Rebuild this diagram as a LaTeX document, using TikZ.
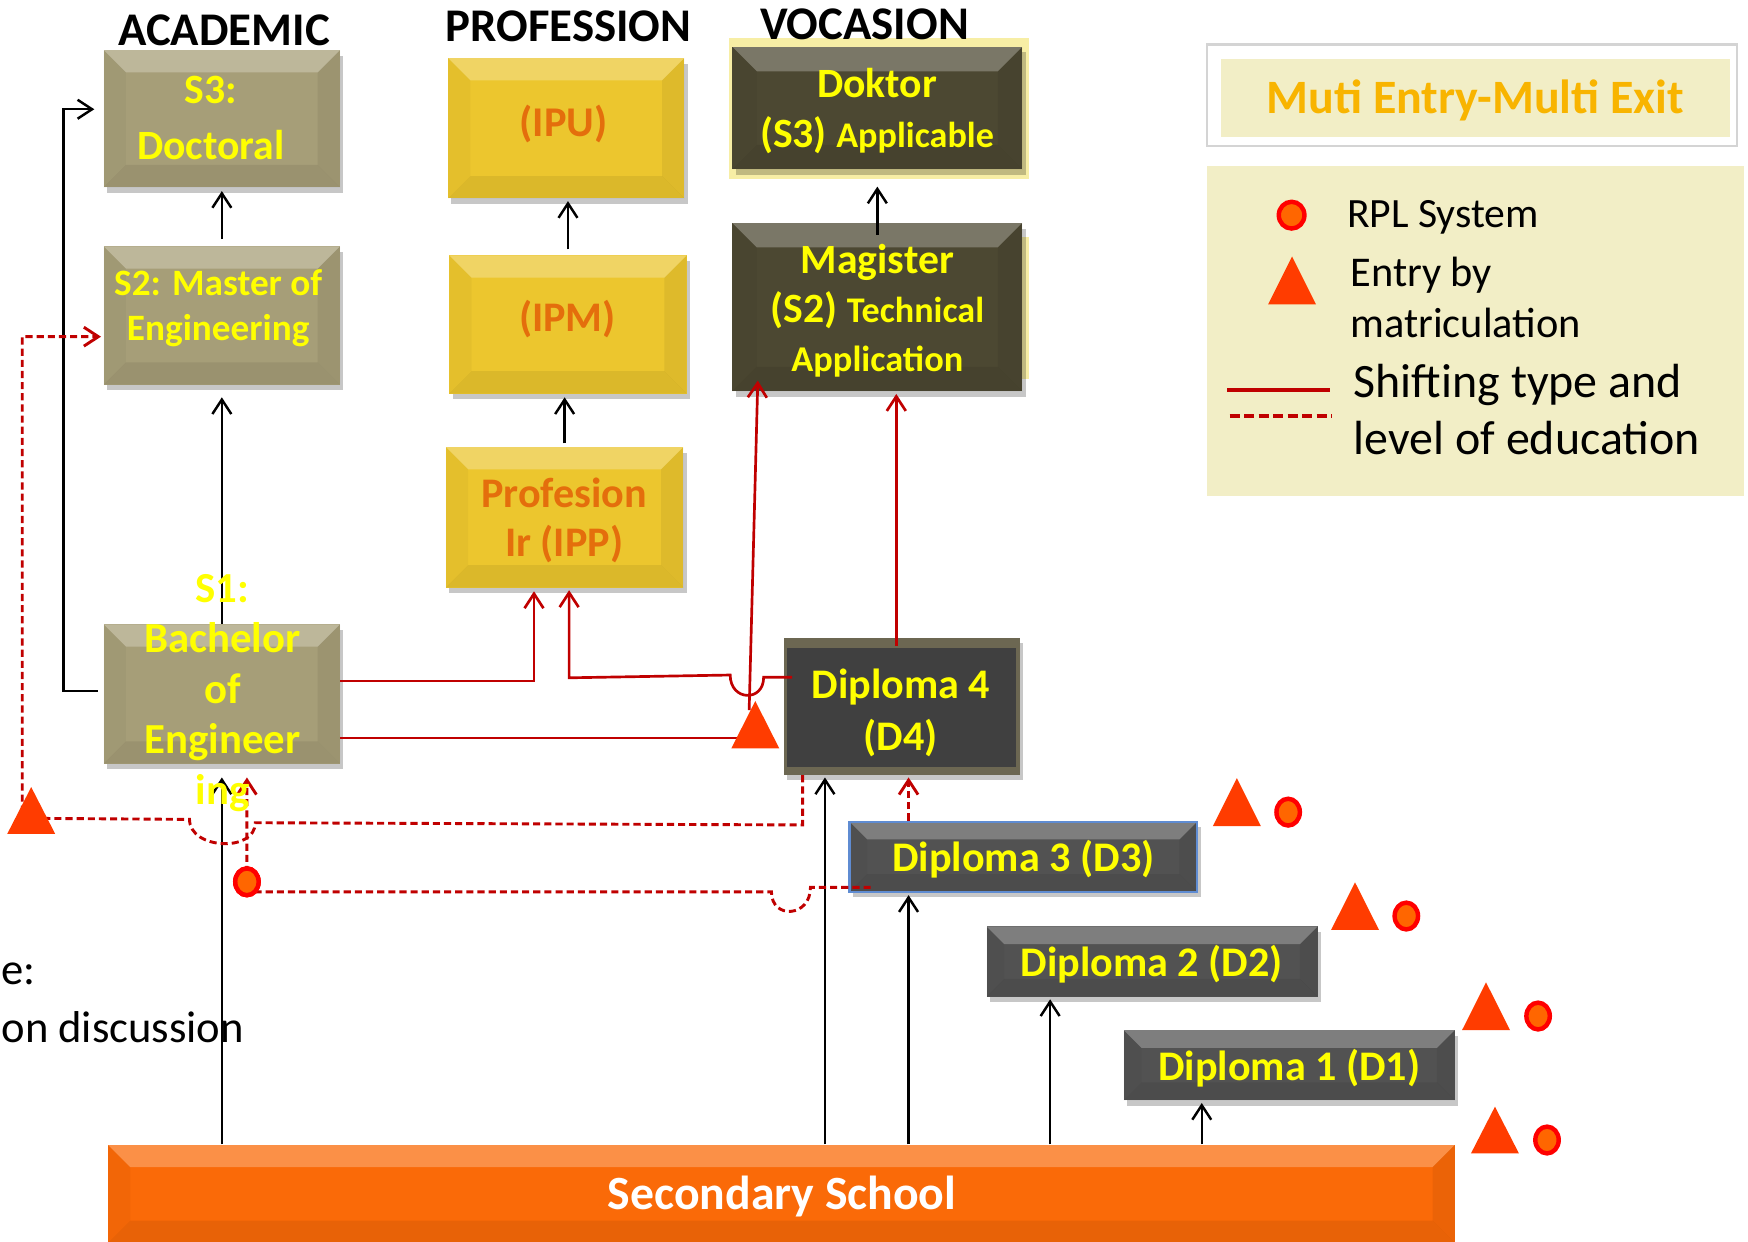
\documentclass[tikz,border=0pt]{standalone}
\usepackage{fontspec}
\setmainfont{Carlito}
\usetikzlibrary{arrows.meta,shadows,shapes.geometric}

\definecolor{acadc}{RGB}{166,158,120}
\definecolor{profc}{RGB}{236,198,46}
\definecolor{vocc}{RGB}{76,72,50}
\definecolor{glowc}{RGB}{247,238,165}
\definecolor{d4frame}{RGB}{108,103,82}
\definecolor{d4c}{RGB}{64,64,64}
\definecolor{dipc}{RGB}{82,82,82}
\definecolor{d3edge}{RGB}{95,140,210}
\definecolor{secc}{RGB}{250,106,8}
\definecolor{legc}{RGB}{242,238,198}
\definecolor{legedge}{RGB}{212,212,212}
\definecolor{redc}{RGB}{192,0,0}
\definecolor{tric}{RGB}{255,60,0}
\definecolor{rplfill}{RGB}{255,102,0}
\definecolor{rpledge}{RGB}{255,0,0}
\definecolor{ytxt}{RGB}{255,255,0}
\definecolor{otxt}{RGB}{228,110,12}
\definecolor{goldtxt}{RGB}{248,180,0}

\newcommand\bevelpic[1]{%
  \fill[white,opacity=.26] (path picture bounding box.north west) -- (path picture bounding box.north east) -- ([xshift=-#1,yshift=-#1]path picture bounding box.north east) -- ([xshift=#1,yshift=-#1]path picture bounding box.north west) -- cycle;
  \fill[black,opacity=.07] (path picture bounding box.south west) -- (path picture bounding box.south east) -- ([xshift=-#1,yshift=#1]path picture bounding box.south east) -- ([xshift=#1,yshift=#1]path picture bounding box.south west) -- cycle;
  \fill[black,opacity=.03] (path picture bounding box.north west) -- ([xshift=#1,yshift=-#1]path picture bounding box.north west) -- ([xshift=#1,yshift=#1]path picture bounding box.south west) -- (path picture bounding box.south west) -- cycle;
  \fill[black,opacity=.06] (path picture bounding box.north east) -- ([xshift=-#1,yshift=-#1]path picture bounding box.north east) -- ([xshift=-#1,yshift=#1]path picture bounding box.south east) -- (path picture bounding box.south east) -- cycle;
}
\newcommand\dfourpic{%
  \fill[d4c] ([xshift=1.6pt,yshift=-4.5pt]path picture bounding box.north west) rectangle ([xshift=-2pt,yshift=3.7pt]path picture bounding box.south east);
}
\newcommand\entrytri[3]{\fill[tric] (#1-21.5,#3) -- (#1,#2) -- (#1+21.5,#3) -- cycle;}

\begin{document}
\begin{tikzpicture}[x=0.5pt,y=-0.5pt,
 shadowed/.style={drop shadow={shadow xshift=1.5pt,shadow yshift=-2.5pt,opacity=.22,fill=black}},
 acad/.style={shadowed,fill=acadc,inner sep=0pt,path picture={\bevelpic{10pt}}},
 prof/.style={shadowed,fill=profc,inner sep=0pt,path picture={\bevelpic{10pt}}},
 voc/.style={shadowed,fill=vocc,inner sep=0pt,path picture={\bevelpic{11pt}}},
 dfour/.style={shadowed,fill=d4frame,inner sep=0pt,path picture={\dfourpic}},
 dipbox/.style={shadowed,fill=dipc,inner sep=0pt,path picture={\bevelpic{8pt}}},
 secbar/.style={fill=secc,inner sep=0pt,path picture={\bevelpic{10pt}}},
 ytext/.style={inner sep=0pt,align=center,text=ytxt},
 otext/.style={inner sep=0pt,align=center,text=otxt},
 headtxt/.style={inner sep=0pt,font=\bfseries\fontsize{21}{25}\selectfont},
 blk/.style={draw=black,line width=1.1pt,-{Straight Barb[length=6.5pt,width=8.5pt]}},
 redl/.style={draw=redc,line width=1.2pt},
 redarr/.style={redl,-{Straight Barb[length=6.5pt,width=8.5pt]}},
 redd/.style={draw=redc,line width=1.3pt,dash pattern=on 3.2pt off 1.8pt},
 reddarr/.style={redd,-{Straight Barb[length=6.5pt,width=8.5pt]}},
 rpl/.style={ellipse,draw=rpledge,fill=rplfill,line width=2pt,minimum width=10.5pt,minimum height=12pt,inner sep=0pt},
 legtext/.style={inner sep=0pt,align=left,text=black},
]
\useasboundingbox (0,0) rectangle (1568,1114);
\fill[white] (0,0) rectangle (1568,1114);

% legend
\node[draw=legedge,line width=1pt,fill=white,minimum width=237.5pt,minimum height=45.5pt,inner sep=0pt] (leg1) at (1320.5,85.5) {};
\node[fill=legc,minimum width=228.5pt,minimum height=35pt,inner sep=0pt] (leg1in) at (1323.5,88) {};
\node[inner sep=0pt,anchor=base,text=goldtxt,font=\bfseries\fontsize{21.5}{26}\selectfont] (mmt) at (1323.5,101.7) {Muti Entry-Multi Exit};
\node[fill=legc,minimum width=240.5pt,minimum height=148pt,inner sep=0pt] (leg2) at (1323.5,297) {};
\node[rpl,minimum width=11.5pt,minimum height=12pt] (lc) at (1158.6,193) {};
\entrytri{1159}{230}{273}
\draw[redc,line width=1.8pt] (1101,350) -- (1193,350);
\draw[redc,line width=1.8pt,dash pattern=on 4.5pt off 2pt] (1103,373) -- (1195,373);
\node[legtext,anchor=base west,font=\fontsize{18.7}{22}\selectfont] (lrpl) at (1208,203.7) {RPL System};
\node[legtext,anchor=west,font=\fontsize{19}{23}\selectfont] (lent) at (1211,267) {Entry by\\matriculation};
\node[legtext,anchor=west,font=\fontsize{21.5}{25.4}\selectfont] (lshift) at (1214,367.5) {Shifting type and\\level of education};

% notes at left
\node[inner sep=0pt,anchor=base west,font=\fontsize{20}{24}\selectfont] (note1) at (1,883.5) {e:};
\node[inner sep=0pt,anchor=base west,font=\fontsize{20}{24}\selectfont] (note2) at (1,935.3) {on discussion};

% glow behind vocation boxes
\fill[glowc] (654,34) rectangle (923,161);
\fill[glowc] (912,213) rectangle (923,340);

% boxes
\node[acad,minimum width=106pt,minimum height=61.5pt] (s3) at (199,106.5) {};
\node[acad,minimum width=106pt,minimum height=62pt] (s2) at (199,283) {};
\node[acad,minimum width=106pt,minimum height=62.5pt] (s1) at (199,622.5) {};
\node[prof,minimum width=106pt,minimum height=63pt] (ipu) at (508,115) {};
\node[prof,minimum width=106.5pt,minimum height=62pt] (ipm) at (509.5,291) {};
\node[prof,minimum width=106.5pt,minimum height=63pt] (ipp) at (506.5,464) {};
\node[voc,minimum width=130pt,minimum height=55pt] (dok) at (787,97) {};
\node[voc,minimum width=130pt,minimum height=75.5pt] (mag) at (787,275.5) {};
\node[dfour,minimum width=106pt,minimum height=61.5pt] (d4) at (809,633.5) {};
\node[dipbox,draw=d3edge,line width=1pt,minimum width=156pt,minimum height=31.5pt] (d3) at (918,768.5) {};
\node[dipbox,minimum width=148.5pt,minimum height=31.5pt] (d2) at (1033.5,862.5) {};
\node[dipbox,minimum width=148.5pt,minimum height=31.5pt] (d1) at (1156.5,955.5) {};
\node[secbar,minimum width=604pt,minimum height=44pt] (sec) at (701,1071) {};

% named points at symbols
\coordinate (tL) at (20,734);
\coordinate (t4) at (672,637);
\node[rpl] (cs) at (221.5,791) {};

% black connectors
\draw[blk,shorten <=3pt,shorten >=1.5pt] (s2.north) -- (s2.north |- s3.south);
\draw[blk,shorten >=5.5pt] (s1.north) -- (s1.north |- s2.south);
\draw[blk,shorten >=6pt] (s1.south |- sec.north) -- (s1.south);
\draw[blk,shorten <=2.5pt,shorten >=4pt] (s1.west |- 0,620) -- (57,620) |- (s3.west |- 0,98);
\draw[blk,shorten <=2.5pt,shorten >=1pt] (ipm.north) -- (ipm.north |- ipu.south);
\draw[blk,shorten <=1.5pt,shorten >=1.5pt] (ipp.north) -- (ipp.north |- ipm.south);
\draw[blk,shorten <=-5.5pt,shorten >=7.5pt] (mag.north) -- (mag.north |- dok.south);
\draw[blk,shorten >=1pt] (740,0 |- sec.north) -- (740,0 |- d4.south);
\draw[blk,shorten >=1pt] (815,0 |- sec.north) -- (815,0 |- d3.south);
\draw[blk,shorten >=1pt] (942,0 |- sec.north) -- (942,0 |- d2.south);
\draw[blk,shorten >=1pt] (1078,0 |- sec.north) -- (1078,0 |- d1.south);

% red solid connectors
\draw[redarr,shorten >=1.5pt] (s1.east |- 0,611) -| (479,0 |- ipp.south);
\draw[redarr,shorten <=-4pt,shorten >=1pt] (d4.west |- 0,607.5) -- (685,607.5) .. controls (685,630) and (655,629) .. (655,605.5) -- (510.5,608) -- (510.5,0 |- ipp.south);
\draw[redarr,shorten >=-5pt] (t4) -- (679.5,0 |- mag.south);
\draw[redl] (s1.east |- 0,662) -- (t4 |- 0,662);
\draw[redarr,shorten <=-4pt,shorten >=1pt] (804,0 |- d4.north) -- (804,0 |- mag.south);

% red dashed connectors
\draw[reddarr,shorten >=1pt] (720,0 |- d4.south) -- (720,740) -- (229,738) .. controls (229,765) and (170,762) .. (170,735) -- (tL) -- (tL |- 0,302) -- (s2.west |- 0,302);
\draw[reddarr,shorten <=-10pt,shorten >=6pt] (d3.west |- 0,796) -- (727,796) .. controls (727,823) and (692,825) .. (692,800) -- (cs |- 0,800) -- (cs |- s1.south);
\draw[reddarr,shorten >=1pt] (815,0 |- d3.north) -- (815,0 |- d4.south);

% symbols on top
\node[rpl] (cs2) at (221.5,791) {};
\entrytri{28}{706}{748}
\entrytri{677.5}{628.8}{671.3}
\entrytri{1109.5}{698}{741}
\entrytri{1215.5}{791.5}{834.2}
\entrytri{1333}{881.2}{924}
\entrytri{1341}{992.7}{1034.6}
\node[rpl] (c3) at (1155.5,728.5) {};
\node[rpl] (c2) at (1261.5,821.7) {};
\node[rpl] (c1) at (1379.7,911.4) {};
\node[rpl] (c0) at (1387.7,1022.6) {};

% headers
\node[headtxt,anchor=base] (hacad) at (201,40.4) {ACADEMIC};
\node[headtxt,anchor=base] (hprof) at (510,37.4) {PROFESSION};
\node[headtxt,anchor=base] (hvoc) at (775.5,35.3) {VOCASION};

% box texts
\node[ytext,font=\bfseries\fontsize{18.7}{25}\selectfont] (s3t) at (189,105.7) {S3:\\Doctoral};
\node[ytext,font=\bfseries\fontsize{16.7}{20.2}\selectfont] (s2t) at (195.7,276.4) {S2: Master of\\Engineering};
\node[ytext,font=\bfseries\fontsize{19.2}{22.6}\selectfont] (s1t) at (199.5,621.6) {S1:\\Bachelor\\of\\Engineer\\ing};
\node[otext,anchor=base,font=\bfseries\fontsize{19}{23}\selectfont] (iput) at (505.6,122.6) {(IPU)};
\node[otext,anchor=base,font=\bfseries\fontsize{18.9}{23}\selectfont] (ipmt) at (509,297.5) {(IPM)};
\node[otext,font=\bfseries\fontsize{18.9}{22.2}\selectfont] (ippt) at (506,466.8) {Profesion\\Ir (IPP)};
\node[ytext,font=\bfseries\fontsize{18.7}{22.5}\selectfont] (dokt) at (786.7,99.5) {Doktor\\(S3) {\fontsize{16.2}{22.5}\selectfont Applicable}};
\node[ytext,font=\bfseries\fontsize{18.7}{22}\selectfont] (magt) at (787,278.5) {Magister\\(S2) {\fontsize{16.2}{22}\selectfont Technical}\\{\fontsize{16.3}{22}\selectfont Application}};
\node[ytext,font=\bfseries\fontsize{18.9}{23.2}\selectfont] (d4t) at (808,639.5) {Diploma 4\\(D4)};
\node[ytext,anchor=base,font=\bfseries\fontsize{18.9}{23}\selectfont] (d3t) at (918,782) {Diploma 3 (D3)};
\node[ytext,anchor=base,font=\bfseries\fontsize{18.9}{23}\selectfont] (d2t) at (1033,875.5) {Diploma 2 (D2)};
\node[ytext,anchor=base,font=\bfseries\fontsize{18.9}{23}\selectfont] (d1t) at (1156.5,968.8) {Diploma 1 (D1)};
\node[inner sep=0pt,anchor=base,text=white,font=\bfseries\fontsize{21.4}{26}\selectfont] (sect) at (701.5,1084.6) {Secondary School};
\end{tikzpicture}
\end{document}
